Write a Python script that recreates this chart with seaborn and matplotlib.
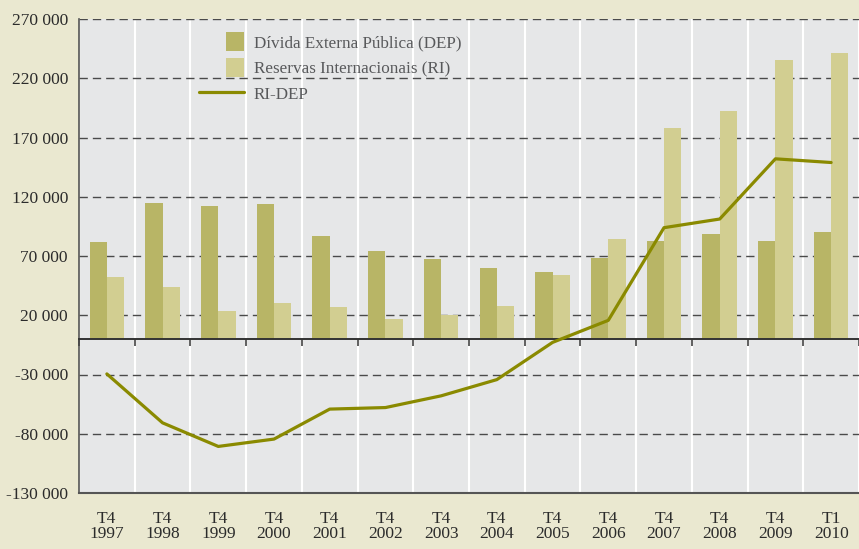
import numpy as np
import pandas as pd
import matplotlib
matplotlib.use("Agg")
import matplotlib.pyplot as plt
import seaborn as sns
from matplotlib.patches import Patch, Rectangle
from matplotlib.lines import Line2D
from matplotlib.legend_handler import HandlerPatch

# ---------------- data ----------------
quarters = ["T4"] * 13 + ["T1"]
years = ["1997", "1998", "1999", "2000", "2001", "2002", "2003",
         "2004", "2005", "2006", "2007", "2008", "2009", "2010"]
dep = [82000, 115000, 112000, 113500, 87000, 74000, 67500,
       60000, 56300, 68000, 83000, 88500, 82600, 90000]
ri = [52000, 43500, 23500, 30500, 26800, 16800, 20400,
      27700, 53800, 84000, 178300, 192000, 235000, 241400]
ri_dep = [-29500, -70800, -90700, -84500, -59200, -57900, -48000,
          -34300, -2900, 15700, 93900, 101200, 152000, 148900]
y_ticks = [-130000, -80000, -30000, 20000, 70000, 120000, 170000, 220000, 270000]
series_names = ["Dívida Externa Pública (DEP)", "Reservas Internacionais (RI)", "RI-DEP"]

categories = [f"{q}\n{y}" for q, y in zip(quarters, years)]
df = pd.DataFrame({
    "cat": categories * 2,
    "serie": [series_names[0]] * len(dep) + [series_names[1]] * len(ri),
    "valor": dep + ri,
})
df_line = pd.DataFrame({"cat": categories, "valor": ri_dep})

# ---------------- style ----------------
FIG_BG = "#EAE8D0"
AX_BG = "#E6E7E8"
C_DEP = "#B8B566"
C_RI = "#D2CE91"
C_LINE = "#8A8A00"
TXT = "#2B2B2B"

sns.set_style("white")
plt.rcParams["font.family"] = ["Liberation Serif", "DejaVu Serif"]

W, H = 859, 549
fig = plt.figure(figsize=(W / 100, H / 100), dpi=100, facecolor=FIG_BG)
ax_l, ax_r, ax_t, ax_b = 79, 859, 19, 493
ax = fig.add_axes([ax_l / W, 1 - ax_b / H, (ax_r - ax_l) / W, (ax_b - ax_t) / H])
ax.set_facecolor(AX_BG)

n = len(categories)
sns.barplot(data=df, x="cat", y="valor", hue="serie", order=categories,
            hue_order=series_names[:2], palette=[C_DEP, C_RI], saturation=1,
            width=0.62, gap=0, errorbar=None, legend=False, ax=ax, zorder=2,
            linewidth=0)
sns.lineplot(data=df_line, x="cat", y="valor", sort=False, color=C_LINE,
             linewidth=2.3, ax=ax, zorder=5)

# limits
cat_px = 56.0
ax.set_xlim(-0.5, -0.5 + (ax_r - ax_l) / cat_px)
ax.set_ylim(y_ticks[0], y_ticks[-1])

# y axis
ax.set_yticks(y_ticks)
ax.set_yticklabels([f"{v:,}".replace(",", " ") for v in y_ticks])
ax.tick_params(axis="y", length=3, width=1, color="#555555", pad=5,
               labelsize=12.5, labelcolor=TXT)
ax.yaxis.grid(True, linestyle=(0, (6, 3.6)), color="#4A4A4A", linewidth=1.0, zorder=1)
ax.set_axisbelow(True)

# x axis: boundaries as long ticks forming a table, labels at centres
bounds = np.arange(-0.5, n, 1.0)
ax.set_xticks(bounds)
ax.set_xticklabels([""] * len(bounds))
ax.set_xticks(np.arange(n), minor=True)
ax.set_xticklabels(categories, minor=True, fontsize=12.5, color=TXT, linespacing=0.95)
ax.tick_params(axis="x", which="major", direction="out", length=(H - ax_b) * 0.72,
               width=1.0, color="#333333")
ax.tick_params(axis="x", which="minor", length=0, pad=13)
ax.xaxis.grid(True, which="major", color="white", linewidth=1.5)
ax.set_xlabel("")
ax.set_ylabel("")

for s in ["top", "right"]:
    ax.spines[s].set_visible(False)
ax.spines["left"].set_color("#555555")
ax.spines["left"].set_linewidth(1.2)
ax.spines["bottom"].set_color("#555555")
ax.spines["bottom"].set_linewidth(1.5)

# zero line with small ticks at category boundaries
zero_frac = (0 - y_ticks[0]) / (y_ticks[-1] - y_ticks[0])
sec = ax.secondary_xaxis(zero_frac)
sec.set_xticks(bounds)
sec.set_xticklabels([""] * len(bounds))
sec.tick_params(axis="x", direction="out", length=5, width=1.2, color="#444444")
for s in sec.spines.values():
    s.set_color("#333333")
    s.set_linewidth(1.4)
sec.set_zorder(3)

# legend
def square_right(legend, orig_handle, xdescent, ydescent, width, height, fontsize):
    s = 1.08 * fontsize
    return Rectangle((-xdescent + width - s, -ydescent + height / 2 - s / 2), s, s)

handles = [Patch(facecolor=C_DEP, edgecolor="none"),
           Patch(facecolor=C_RI, edgecolor="none"),
           Line2D([], [], color=C_LINE, linewidth=2.3)]
leg = ax.legend(handles, series_names, loc="upper left",
                bbox_to_anchor=((199 - ax_l) / (ax_r - ax_l), 1 - (34 - ax_t) / (ax_b - ax_t)),
                frameon=False, fontsize=12.3, handlelength=2.65, handleheight=1.0,
                handletextpad=0.55, labelspacing=0.48, borderpad=0, borderaxespad=0,
                handler_map={Patch: HandlerPatch(patch_func=square_right)})
for t in leg.get_texts():
    t.set_color("#58595B")

fig.savefig("out.png", dpi=100, facecolor=FIG_BG)
